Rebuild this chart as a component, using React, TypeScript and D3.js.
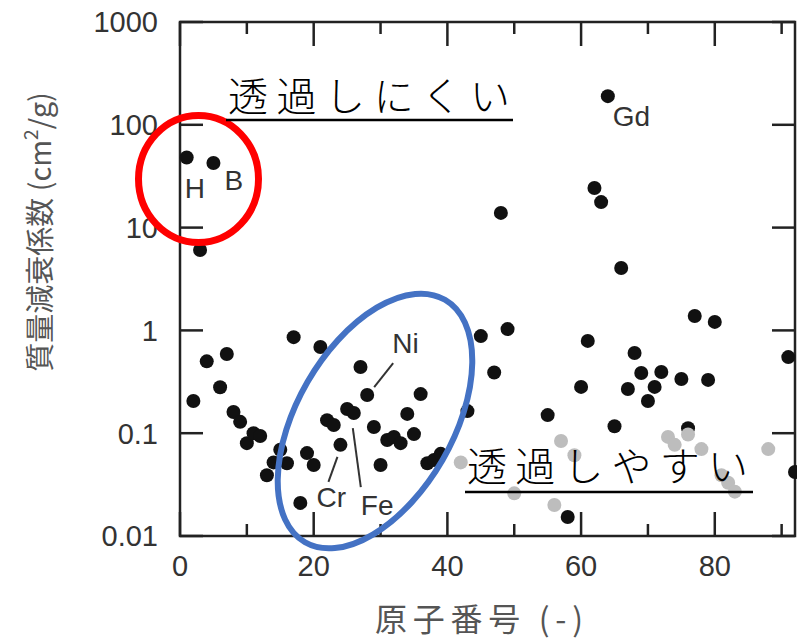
import React from "react";
import * as d3 from "d3";

const blackZ = [1, 2, 3, 4, 5, 6, 7, 8, 9, 10, 11, 12, 13, 14, 15, 16, 17, 18, 19, 20, 21, 22, 23, 24, 25, 26, 27, 28, 29, 30, 31, 32, 33, 34, 35, 36, 37, 38, 39, 43, 45, 47, 48, 49, 55, 58, 60, 61, 62, 63, 64, 65, 66, 67, 68, 69, 70, 71, 72, 75, 76, 77, 79, 80, 91, 92];
const blackVal = [48, 0.206, 6.05, 0.5, 42.5, 0.28, 0.59, 0.161, 0.129, 0.08, 0.1, 0.094, 0.039, 0.052, 0.069, 0.051, 0.86, 0.021, 0.064, 0.049, 0.69, 0.134, 0.12, 0.077, 0.172, 0.157, 0.44, 0.235, 0.115, 0.049, 0.086, 0.092, 0.08, 0.154, 0.098, 0.24, 0.051, 0.055, 0.063, 0.164, 0.88, 0.39, 13.9, 1.03, 0.15, 0.0153, 0.282, 0.79, 24.3, 17.7, 190, 0.117, 4.05, 0.269, 0.603, 0.385, 0.206, 0.282, 0.394, 0.337, 0.112, 1.38, 0.33, 1.21, 0.55, 0.042];

const grayZ = [42, 50, 56, 57, 59, 73, 74, 76, 78, 81, 82, 83, 88];
const grayVal = [0.052, 0.026, 0.02, 0.084, 0.061, 0.092, 0.077, 0.097, 0.07, 0.039, 0.033, 0.027, 0.07];

const xMajor = [0, 20, 40, 60, 80];
const xMinor = [10, 30, 50, 70, 90];
const yTicks = [0.01, 0.1, 1, 10, 100, 1000];
const yTickLabels = ["0.01", "0.1", "1", "10", "100", "1000"];

const elementLabels = [
  { text: "H", z: 1, dx: -2, dy: 40 },
  { text: "B", z: 5, dx: 11, dy: 27 },
  { text: "Gd", z: 64, dx: 5, dy: 30 },
];

const L = 180, R = 795, T = 22, B = 536;

export default function App() {
  const x = d3.scaleLinear().domain([0, 92]).range([L, R]);
  const y = d3.scaleLog().domain([0.01, 1000]).range([B, T]);
  const valOf = (z: number) => blackVal[blackZ.indexOf(z)];
  const latin = "'Liberation Sans', Arial, Helvetica, sans-serif";
  const cjk = "'Noto Sans CJK JP', 'Noto Sans', sans-serif";

  const ni = { px: x(28), py: y(valOf(28)) };
  const cr = { px: x(24), py: y(valOf(24)) };
  const fe = { px: x(26), py: y(valOf(26)) };

  return (
    <svg width={797} height={644} style={{ position: "absolute", left: 0, top: 0, background: "#fff" }}>
      <rect x={0} y={0} width={797} height={644} fill="#fff" />
      {/* frame */}
      <rect x={L} y={T} width={R - L} height={B - T} fill="none" stroke="#222" strokeWidth={2.5} />
      {/* x ticks */}
      {xMajor.map((v) => (
        <g key={"xM" + v}>
          <line x1={x(v)} x2={x(v)} y1={B} y2={B - 24} stroke="#222" strokeWidth={2.5} />
          <line x1={x(v)} x2={x(v)} y1={T} y2={T + 24} stroke="#222" strokeWidth={2.5} />
          <text x={x(v)} y={576} textAnchor="middle" fontFamily={latin} fontSize={29} fill="#333">{v}</text>
        </g>
      ))}
      {xMinor.map((v) => (
        <g key={"xm" + v}>
          <line x1={x(v)} x2={x(v)} y1={B} y2={B - 12} stroke="#222" strokeWidth={2.5} />
          <line x1={x(v)} x2={x(v)} y1={T} y2={T + 12} stroke="#222" strokeWidth={2.5} />
        </g>
      ))}
      {/* y ticks */}
      {yTicks.map((v, i) => (
        <g key={"y" + v}>
          <line x1={L} x2={L + 23} y1={y(v)} y2={y(v)} stroke="#222" strokeWidth={2.5} />
          <line x1={R} x2={R - 23} y1={y(v)} y2={y(v)} stroke="#222" strokeWidth={2.5} />
          <text x={158} y={y(v)} dy="0.36em" textAnchor="end" fontFamily={latin} fontSize={29} fill="#333">{yTickLabels[i]}</text>
        </g>
      ))}
      {/* axis titles */}
      <text x={479} y={631} textAnchor="middle" fontFamily={cjk} fontSize={32} fill="#555" textLength={208} lengthAdjust="spacing">原子番号 (-)</text>
      <text transform="translate(51,232) rotate(-90)" textAnchor="middle" fontFamily={cjk} fontSize={29} fill="#555">
        質量減衰係数 (cm<tspan fontSize={19} dy={-13}>2</tspan><tspan dy={13}>/g)</tspan>
      </text>
      {/* black points */}
      {blackZ.map((z, i) => (
        <circle key={"b" + z} cx={x(z)} cy={y(blackVal[i])} r={7} fill="#111" />
      ))}
      {/* gray points */}
      {grayZ.map((z, i) => (
        <circle key={"g" + z} cx={x(z)} cy={y(grayVal[i])} r={7} fill="#bdbdbd" />
      ))}
      {/* element labels */}
      {elementLabels.map((l) => (
        <text key={l.text} x={x(l.z) + l.dx} y={y(valOf(l.z)) + l.dy} fontFamily={latin} fontSize={28} fill="#333">{l.text}</text>
      ))}
      <line x1={ni.px + 7} x2={ni.px + 26} y1={ni.py - 8} y2={ni.py - 32} stroke="#333" strokeWidth={2} />
      <text x={ni.px + 25} y={ni.py - 42} fontFamily={latin} fontSize={28} fill="#333">Ni</text>
      <line x1={cr.px - 3} x2={cr.px - 12} y1={cr.py + 12} y2={cr.py + 37} stroke="#333" strokeWidth={2} />
      <text x={cr.px - 24} y={cr.py + 62} fontFamily={latin} fontSize={28} fill="#333">Cr</text>
      <line x1={fe.px - 1} x2={fe.px + 7} y1={fe.py + 15} y2={fe.py + 74} stroke="#333" strokeWidth={2} />
      <text x={fe.px + 7} y={fe.py + 102} fontFamily={latin} fontSize={28} fill="#333">Fe</text>
      {/* annotations */}
      <ellipse cx={198.5} cy={179} rx={60} ry={63.5} fill="none" stroke="#ff0000" strokeWidth={7} />
      <ellipse cx={375} cy={421} rx={78} ry={140} transform="rotate(30,375,421)" fill="none" stroke="#4472c4" strokeWidth={6} />
      <text x={228} y={111} fontFamily={cjk} fontWeight={300} fontSize={40} fill="#000" textLength={282} lengthAdjust="spacing">透過しにくい</text>
      <line x1={226} x2={513} y1={120} y2={120} stroke="#000" strokeWidth={2.5} />
      <text x={467} y={481} fontFamily={cjk} fontWeight={300} fontSize={40} fill="#000" textLength={281} lengthAdjust="spacing">透過しやすい</text>
      <line x1={465} x2={753} y1={492} y2={492} stroke="#000" strokeWidth={2.5} />
    </svg>
  );
}
